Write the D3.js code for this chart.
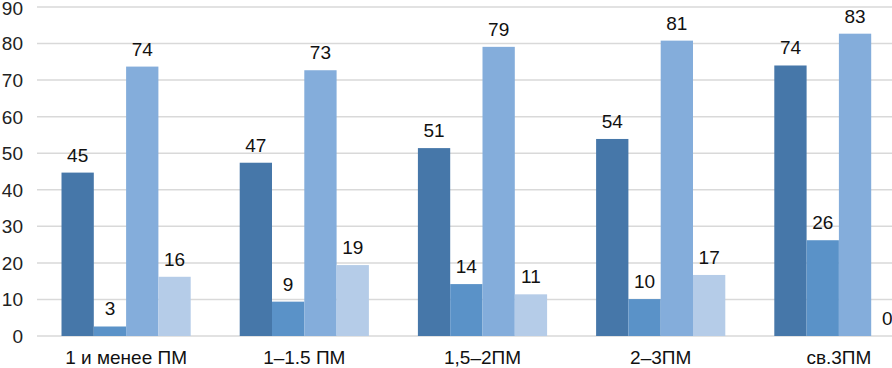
<!DOCTYPE html>
<html>
<head>
<meta charset="utf-8">
<script src="https://cdn.jsdelivr.net/npm/d3@7"></script>
<style>
  html, body { margin: 0; padding: 0; background: #fff; }
  svg { display: block; font-family: "Liberation Sans", Arial, sans-serif; }
</style>
</head>
<body>
<div id="chart"></div>
<script>
// values (labels are rounded)
const categories = ["1 и менее ПМ", "1–1.5 ПМ", "1,5–2ПМ", "2–3ПМ", "св.3ПМ"];
const series1 = [44.7, 47.4, 51.4, 53.9, 74.0];
const series2 = [2.6, 9.4, 14.2, 10.1, 26.2];
const series3 = [73.7, 72.7, 79.1, 80.8, 82.7];
const series4 = [16.2, 19.4, 11.4, 16.7, 0];
const yTicks = [0, 10, 20, 30, 40, 50, 60, 70, 80, 90];

const seriesList = [series1, series2, series3, series4];
const colors = ["#4677a9", "#5a92c8", "#84addb", "#b5cce8"];

const width = 892, height = 368;
// plot runs past the right edge, as in the original crop
const margin = { left: 37, right: -36, top: 7, bottom: 32 };

const svg = d3.select("#chart").append("svg")
  .attr("width", width)
  .attr("height", height);

const x = d3.scaleBand()
  .domain(categories)
  .range([margin.left, width - margin.right])
  .paddingInner(0.275)
  .paddingOuter(0.1375);

const xInner = d3.scaleBand()
  .domain(d3.range(seriesList.length))
  .range([0, x.bandwidth()]);

const y = d3.scaleLinear()
  .domain([0, 90])
  .range([height - margin.bottom, margin.top]);

// gridlines
svg.append("g")
  .selectAll("line")
  .data(yTicks)
  .join("line")
  .attr("x1", margin.left)
  .attr("x2", width)
  .attr("y1", d => y(d))
  .attr("y2", d => y(d))
  .attr("stroke", "#d9d9d9")
  .attr("stroke-width", 1.5);

// y tick labels (top one nudged so it stays inside the frame)
svg.append("g")
  .selectAll("text")
  .data(yTicks)
  .join("text")
  .attr("x", 23)
  .attr("y", d => Math.max(y(d), 8.5))
  .attr("dy", "0.36em")
  .attr("text-anchor", "end")
  .style("font-size", "19px")
  .style("fill", "#222")
  .text(d => d);

// bars
const groups = svg.append("g")
  .selectAll("g")
  .data(categories)
  .join("g")
  .attr("transform", d => `translate(${x(d)},0)`);

groups.selectAll("rect")
  .data((d, i) => seriesList.map((s, k) => ({ k, v: s[i] })))
  .join("rect")
  .attr("x", d => xInner(d.k))
  .attr("width", xInner.bandwidth())
  .attr("y", d => y(d.v))
  .attr("height", d => y(0) - y(d.v))
  .attr("fill", d => colors[d.k]);

groups.selectAll("text")
  .data((d, i) => seriesList.map((s, k) => ({ k, v: s[i] })))
  .join("text")
  .attr("x", d => xInner(d.k) + xInner.bandwidth() / 2)
  .attr("y", d => y(d.v) - 11)
  .attr("text-anchor", "middle")
  .style("font-size", "19px")
  .style("fill", "#111")
  .text(d => d3.format(".0f")(d.v));

// category labels
svg.append("g")
  .selectAll("text")
  .data(categories)
  .join("text")
  .attr("x", d => x(d) + x.bandwidth() / 2)
  .attr("y", 364)
  .attr("text-anchor", "middle")
  .style("font-size", "19px")
  .style("fill", "#111")
  .text(d => d);
</script>
</body>
</html>
